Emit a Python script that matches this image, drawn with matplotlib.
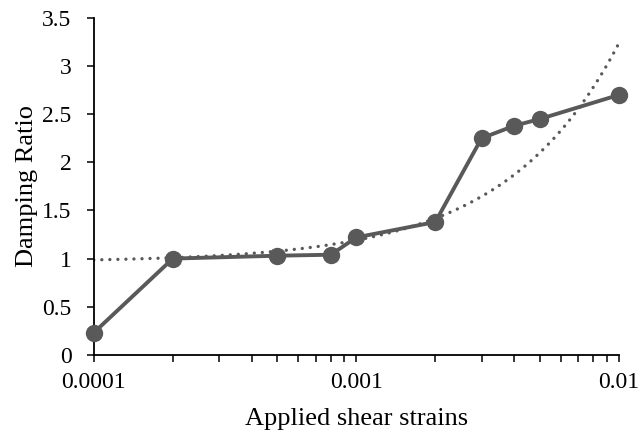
import numpy as np
import matplotlib.pyplot as plt
from matplotlib.ticker import LogLocator, FixedLocator, NullFormatter

strains = [0.0001, 0.0002, 0.0005, 0.0008, 0.001, 0.002, 0.003, 0.004, 0.005, 0.01]
damping = [0.23, 1.0, 1.03, 1.04, 1.22, 1.38, 2.25, 2.38, 2.45, 2.70]
x_ticks = [0.0001, 0.001, 0.01]
x_tick_labels = ['0.0001', '0.001', '0.01']
y_ticks = [0, 0.5, 1, 1.5, 2, 2.5, 3, 3.5]
y_tick_labels = ['0', '0.5', '1', '1.5', '2', '2.5', '3', '3.5']

plt.rcParams['font.family'] = ['Liberation Serif', 'DejaVu Serif']

color = '#595959'

fig = plt.figure(figsize=(6.38, 4.37), dpi=100)
ax = fig.add_axes([0.147, 0.188, 0.823, 0.771])

# linear trendline (Excel style) fitted on the data
slope, intercept = np.polyfit(strains, damping, 1)
xs = np.logspace(np.log10(strains[0]), np.log10(strains[-1]), 400)
ax.plot(xs, intercept + slope * xs, linestyle=(0, (0.01, 2.4)),
        color=color, linewidth=2.4, dash_capstyle='round', zorder=2)

ax.plot(strains, damping, color=color, linewidth=2.8, marker='o',
        markersize=11.5, zorder=3, clip_on=False)

ax.set_xscale('log')
ax.set_xlim(0.0001, 0.01)
ax.set_ylim(0, 3.5)
ax.xaxis.set_major_locator(FixedLocator(x_ticks))
ax.set_xticklabels(x_tick_labels)
ax.xaxis.set_minor_locator(LogLocator(base=10, subs=np.arange(2, 10)))
ax.xaxis.set_minor_formatter(NullFormatter())
ax.set_yticks(y_ticks)
ax.set_yticklabels(y_tick_labels)

for s in ['top', 'right']:
    ax.spines[s].set_visible(False)
for s in ['left', 'bottom']:
    ax.spines[s].set_linewidth(1.3)
ax.tick_params(which='major', direction='out', length=5, width=1.1,
               labelsize=17, labelcolor='#000000')
ax.tick_params(axis='x', which='major', pad=7)
ax.tick_params(axis='y', which='major', pad=11)
ax.tick_params(which='minor', direction='out', length=5, width=1.1)

ax.set_xlabel('Applied shear strains', fontsize=19, labelpad=11)
ax.set_ylabel('Damping Ratio', fontsize=19, labelpad=3)

fig.savefig('out.png', dpi=100)
